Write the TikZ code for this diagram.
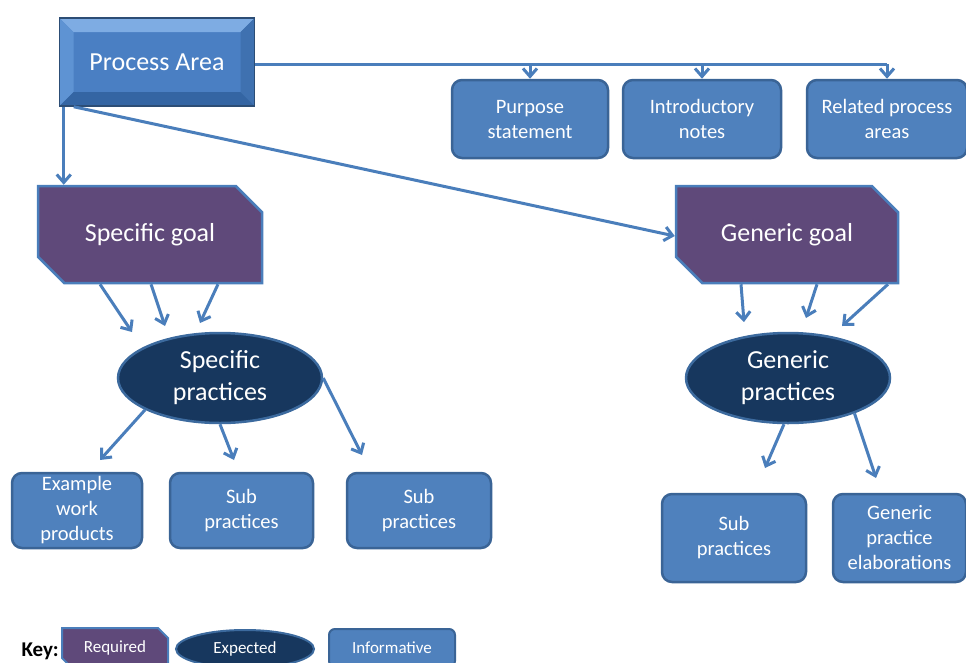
\documentclass[tikz,border=0pt]{standalone}
\usepackage{fontspec}
\setmainfont{Carlito}
\usetikzlibrary{shapes.geometric, shapes.misc, arrows.meta}

\definecolor{infofill}{HTML}{4F81BD}
\definecolor{infoedge}{HTML}{3A6496}
\definecolor{goalfill}{HTML}{5F497A}
\definecolor{goaledge}{HTML}{4A7EBB}
\definecolor{practfill}{HTML}{17375E}
\definecolor{practedge}{HTML}{3C6A9E}
\definecolor{linkblue}{HTML}{4A7EBB}
\definecolor{areamid}{HTML}{4A7FC3}
\definecolor{areatop}{HTML}{7EACE3}
\definecolor{arealeft}{HTML}{5E93D3}
\definecolor{arearight}{HTML}{3F71B0}
\definecolor{areabottom}{HTML}{3465A3}
\definecolor{areaedge}{HTML}{2C4D75}

\begin{document}
\begin{tikzpicture}[x=1pt, y=-1pt,
    area/.style={rectangle, draw=areaedge, line width=1.5pt, fill=areamid, text=white, font=\fontsize{26}{32}\selectfont, minimum width=195pt, minimum height=88pt,
      path picture={
        \fill[areatop] (path picture bounding box.north west) -- (path picture bounding box.north east) -- ([xshift=-14pt,yshift=-14pt]path picture bounding box.north east) -- ([xshift=14pt,yshift=-14pt]path picture bounding box.north west) -- cycle;
        \fill[arealeft] (path picture bounding box.north west) -- ([xshift=14pt,yshift=-14pt]path picture bounding box.north west) -- ([xshift=14pt,yshift=14pt]path picture bounding box.south west) -- (path picture bounding box.south west) -- cycle;
        \fill[arearight] (path picture bounding box.north east) -- ([xshift=-14pt,yshift=-14pt]path picture bounding box.north east) -- ([xshift=-14pt,yshift=14pt]path picture bounding box.south east) -- (path picture bounding box.south east) -- cycle;
        \fill[areabottom] (path picture bounding box.south west) -- ([xshift=14pt,yshift=14pt]path picture bounding box.south west) -- ([xshift=-14pt,yshift=14pt]path picture bounding box.south east) -- (path picture bounding box.south east) -- cycle;
      }},
    info/.style={rectangle, rounded corners=10pt, draw=infoedge, fill=infofill, line width=2.5pt, text=white, align=center, font=\fontsize{20.5}{25}\selectfont, inner sep=2pt},
    goal/.style={chamfered rectangle, chamfered rectangle corners={north east, south west}, chamfered rectangle xsep=15pt, chamfered rectangle ysep=15pt, draw=goaledge, fill=goalfill, line width=2.5pt, text=white, font=\fontsize{26}{32}\selectfont, inner sep=0pt},
    practice/.style={ellipse, draw=practedge, fill=practfill, line width=2.5pt, text=white, align=center, font=\fontsize{26}{32}\selectfont, minimum width=204pt, minimum height=90pt, inner sep=0pt},
    line/.style={draw=linkblue, line width=3pt, -{Straight Barb[length=8pt, width=14pt]}}]
    \useasboundingbox (0,0) rectangle (966,662);
    % top level
    \node [area] (pa) at (157,62) {Process Area};
    \node [info, minimum width=156pt, minimum height=78pt] (purpose) at (530,119) {Purpose\\statement};
    \node [info, minimum width=158pt, minimum height=78pt] (intro) at (702,119) {Introductory\\notes};
    \node [info, minimum width=160pt, minimum height=78pt] (related) at (887,119) {Related process\\areas};
    % goals
    \node [goal, minimum width=224pt, minimum height=97pt] (sgoal) at (150,234.5) {Specific goal};
    \node [goal, minimum width=222pt, minimum height=97pt] (ggoal) at (787,234.5) {Generic goal};
    % practices
    \node [practice] (spract) at (220,378) {Specific\\practices};
    \node [practice] (gpract) at (788,378) {Generic\\practices};
    % informative material
    \node [info, minimum width=130pt, minimum height=75pt] (ewp) at (77,510.5) {Example\\work\\products};
    \node [info, minimum width=143pt, minimum height=75pt] (ssub1) at (241.5,510.5) {Sub\\practices};
    \node [info, minimum width=144pt, minimum height=75pt] (ssub2) at (419,510.5) {Sub\\practices};
    \node [info, minimum width=144pt, minimum height=88pt] (gsub) at (734,538) {Sub\\practices};
    \node [info, minimum width=133pt, minimum height=88pt] (gpe) at (899.5,538) {Generic\\practice\\elaborations};
    % key
    \node [anchor=west, font=\fontsize{21}{25}\selectfont\bfseries] (key) at (18,651) {Key:};
    \node [goal, chamfered rectangle xsep=5pt, chamfered rectangle ysep=5pt, line width=2pt, font=\fontsize{17}{20}\selectfont, minimum width=106pt, minimum height=40pt] (kreq) at (115,648) {Required};
    \node [practice, line width=2pt, font=\fontsize{17}{20}\selectfont, minimum width=138pt, minimum height=38pt] (kexp) at (245,649) {Expected};
    \node [info, rounded corners=6pt, line width=2pt, font=\fontsize{17}{20}\selectfont, minimum width=126pt, minimum height=38pt] (kinf) at (392,648) {Informative};
    % free ends
    \coordinate (sg1) at (132,332);
    \coordinate (sg2) at (165,326);
    \coordinate (sg3) at (200,323);
    \coordinate (gg1) at (744,322);
    \coordinate (gg2) at (806,318);
    \coordinate (gg3) at (842,326);
    \coordinate (sp1) at (100,460);
    \coordinate (sp2) at (234,460);
    \coordinate (sp3) at (362,455);
    \coordinate (gp1) at (765,468);
    \coordinate (gp2) at (876,478);
    % connectors
    \path [draw=linkblue, line width=3pt] ([yshift=-2pt]pa.east) -- ([yshift=-2pt]related.north |- pa.east);
    \path [line] ([yshift=-2pt]purpose.north |- pa.east) -- (purpose.north);
    \path [line] ([yshift=-2pt]intro.north |- pa.east) -- (intro.north);
    \path [line] ([yshift=-2pt]related.north |- pa.east) -- (related.north);
    \path [line] ([xshift=5pt]pa.south west) -- ([xshift=5pt]pa.south west |- sgoal.north);
    \path [line] ([xshift=15pt]pa.south west) -- ([yshift=-1.5pt]ggoal.west);
    \path [line] ([xshift=-50pt]sgoal.south) -- (sg1);
    \path [line] ([xshift=1pt]sgoal.south) -- (sg2);
    \path [line] ([xshift=68pt]sgoal.south) -- (sg3);
    \path [line] ([xshift=-46pt]ggoal.south) -- (gg1);
    \path [line] ([xshift=30pt]ggoal.south) -- (gg2);
    \path [line] ([xshift=101pt]ggoal.south) -- (gg3);
    \path [line] (spract.203) -- (sp1);
    \path [line] (spract.south) -- (sp2);
    \path [line] (spract.east) -- (sp3);
    \path [line] (gpract.265) -- (gp1);
    \path [line] (gpract.-28) -- (gp2);
\end{tikzpicture}
\end{document}
